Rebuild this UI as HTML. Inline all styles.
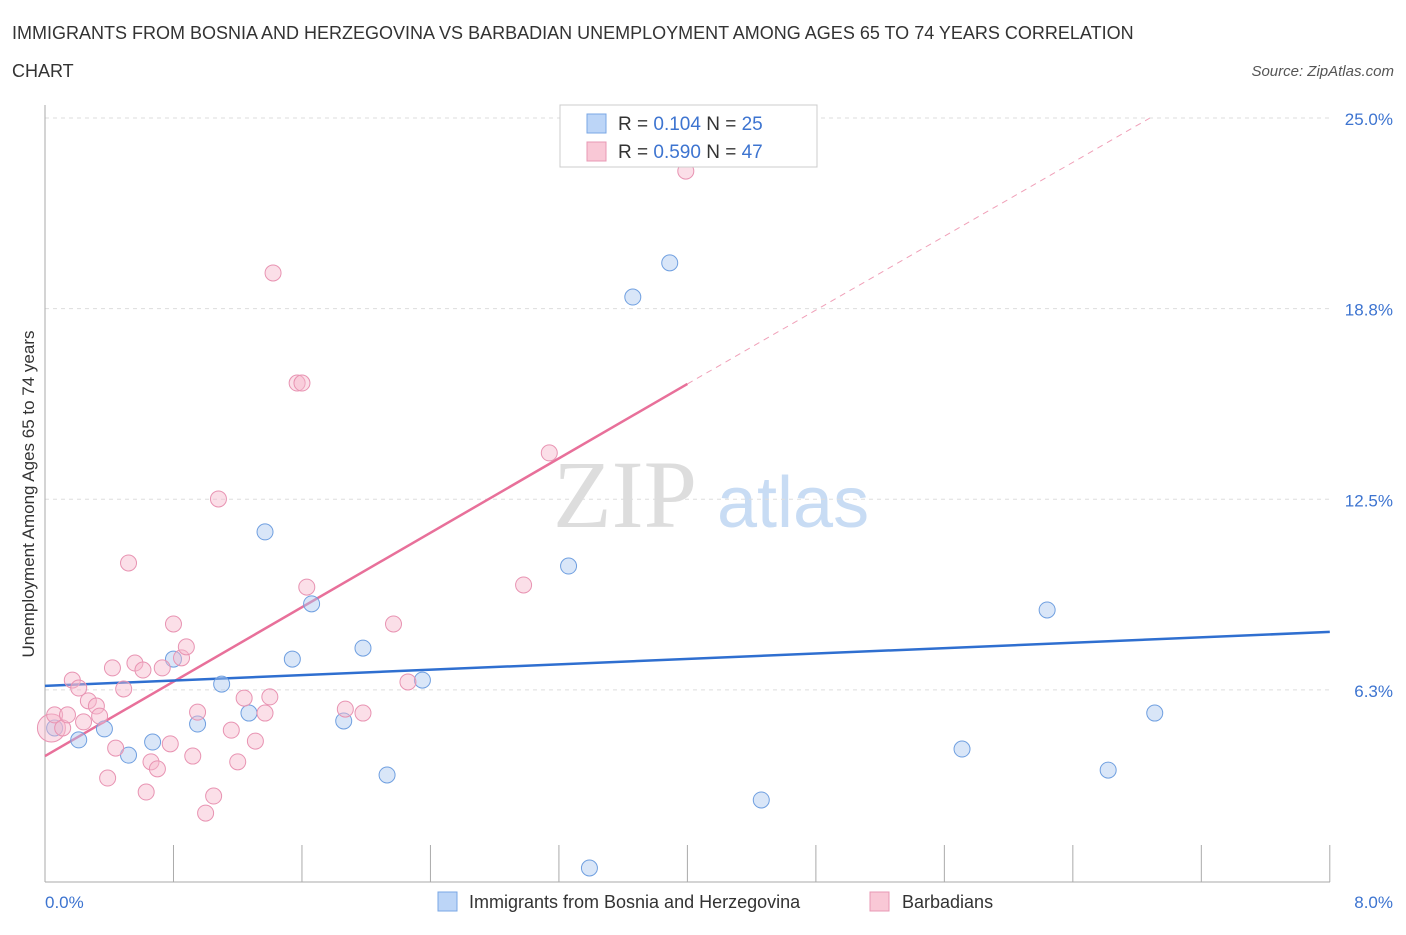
<!DOCTYPE html>
<html><head><meta charset="utf-8"><style>
body{margin:0;background:#fff;font-family:"Liberation Sans",sans-serif}
</style></head><body>
<svg id="chart" width="1406" height="930" xmlns="http://www.w3.org/2000/svg" font-family="Liberation Sans, sans-serif">
<text x="12" y="39" font-size="18" fill="#333">IMMIGRANTS FROM BOSNIA AND HERZEGOVINA VS BARBADIAN UNEMPLOYMENT AMONG AGES 65 TO 74 YEARS CORRELATION</text>
<text x="12" y="77" font-size="18" fill="#333">CHART</text>
<text x="1394" y="76" font-size="15" fill="#555" text-anchor="end" font-style="italic">Source: ZipAtlas.com</text>
<text x="553" y="527" font-size="96" fill="#ddd" font-family="Liberation Serif, serif">ZIP</text>
<text x="717" y="527" font-size="72" fill="#c8dcf4">atlas</text>
<g id="grid"></g>
<line x1="45" y1="882" x2="1330" y2="882" stroke="#aaa"/>
<line x1="45" y1="105" x2="45" y2="882" stroke="#aaa"/>
<text transform="translate(34,494) rotate(-90)" font-size="17" fill="#333" text-anchor="middle">Unemployment Among Ages 65 to 74 years</text>
<text x="45" y="908" font-size="17" fill="#3d74d0">0.0%</text>
<text x="1393" y="908" font-size="17" fill="#3d74d0" text-anchor="end">8.0%</text>
<g id="lines"></g>
<g id="points"></g>
<g>
<rect x="560" y="105" width="257" height="62" fill="#fff" stroke="#ccc"/>
<rect x="587" y="114" width="19" height="19" fill="#bcd5f7" stroke="#7aa7e4"/>
<text x="618" y="130" font-size="19" fill="#333">R = <tspan fill="#3d74d0">0.104</tspan>    N = <tspan fill="#3d74d0">25</tspan></text>
<rect x="587" y="142" width="19" height="19" fill="#f9c8d6" stroke="#e898b4"/>
<text x="618" y="158" font-size="19" fill="#333">R = <tspan fill="#3d74d0">0.590</tspan>    N = <tspan fill="#3d74d0">47</tspan></text>
</g>
<g>
<rect x="438" y="892" width="19" height="19" fill="#bcd5f7" stroke="#7aa7e4"/>
<text x="469" y="908" font-size="18" fill="#333">Immigrants from Bosnia and Herzegovina</text>
<rect x="870" y="892" width="19" height="19" fill="#f9c8d6" stroke="#e898b4"/>
<text x="902" y="908" font-size="18" fill="#333">Barbadians</text>
</g>
</svg>
<script>
const yTicks=[6.25,12.5,18.75,25];
const yTickLabels=["6.3%","12.5%","18.8%","25.0%"];
const xTicks=[0.8,1.6,2.4,3.2,4.0,4.8,5.6,6.4,7.2,8.0];
const blueX=[0.06,0.21,0.37,0.52,0.67,0.80,0.95,1.10,1.27,1.37,1.54,1.66,1.86,1.98,2.13,2.35,3.26,3.39,3.66,3.89,4.46,5.71,6.24,6.62,6.91];
const blueY=[5.0,4.61,4.97,4.11,4.54,7.26,5.13,6.44,5.49,11.43,7.26,9.07,5.23,7.62,3.46,6.57,10.31,0.41,19.13,20.25,2.64,4.31,8.87,3.62,5.49];
const pinkX=[0.04,0.06,0.11,0.14,0.17,0.21,0.24,0.27,0.32,0.34,0.39,0.42,0.44,0.49,0.52,0.56,0.61,0.63,0.66,0.70,0.73,0.78,0.80,0.85,0.88,0.92,0.95,1.00,1.05,1.08,1.16,1.20,1.24,1.31,1.37,1.40,1.42,1.57,1.60,1.63,1.87,1.98,2.17,2.26,2.98,3.14,3.99];
const pinkY=[5.0,5.43,5.0,5.43,6.57,6.31,5.2,5.89,5.72,5.39,3.36,6.97,4.34,6.28,10.41,7.13,6.90,2.90,3.89,3.66,6.97,4.48,8.41,7.30,7.66,4.08,5.52,2.21,2.77,12.51,4.93,3.89,5.98,4.57,5.49,6.02,19.92,16.31,16.31,9.62,5.62,5.49,8.41,6.51,9.69,14.02,23.26];
const blueTrend=[[0,6.38],[8,8.15]];
const pinkTrend=[[0,4.08],[4.0,16.28]];
const pinkDash=[[4.0,16.28],[6.88,25.0]];
const sx=v=>45+v*160.6, sy=v=>880.5-v*30.5;
const NS="http://www.w3.org/2000/svg";
function mk(tag,attrs,parent){const e=document.createElementNS(NS,tag);for(const k in attrs)e.setAttribute(k,attrs[k]);document.getElementById(parent).appendChild(e);return e;}
yTicks.forEach((t,i)=>{
 const l=mk('line',{x1:45,x2:1330,y1:sy(t),y2:sy(t),stroke:'#ddd','stroke-dasharray':'4,4'},'grid');
 
 
 const tx=mk('text',{x:1393,y:sy(t)+7,'font-size':17,fill:'#3d74d0','text-anchor':'end'},'grid');
 tx.textContent=yTickLabels[i];
 
 
});
xTicks.forEach(t=>{
 const l=mk('line',{x1:sx(t),x2:sx(t),y1:845,y2:882,stroke:'#aaa'},'grid');
 
 
});
function line(p,color,dash,name,w){
 const a={x1:sx(p[0][0]),y1:sy(p[0][1]),x2:sx(p[1][0]),y2:sy(p[1][1]),stroke:color,'stroke-width':w};
 if(dash)a['stroke-dasharray']=dash;
 const l=mk('line',a,'lines');
 
 
}
line(pinkDash,'#f0a0b8','6,5','pink-trend-extension',1);
line(pinkTrend,'#e8709a',null,'pink-trend-line',2.5);
line(blueTrend,'#2f6fd0',null,'blue-trend-line',2.5);
blueX.forEach((x,i)=>{
 const c=mk('circle',{cx:sx(x),cy:sy(blueY[i]),r:8,fill:'rgba(170,200,240,0.45)',stroke:'#6f9fe0','stroke-width':1},'points');
 
 
});
pinkX.forEach((x,i)=>{
 const c=mk('circle',{cx:sx(x),cy:sy(pinkY[i]),r:i===0?14:8,fill:'rgba(246,185,204,0.45)',stroke:'#e893b2','stroke-width':1},'points');
 
 
});
</script>
</body></html>
